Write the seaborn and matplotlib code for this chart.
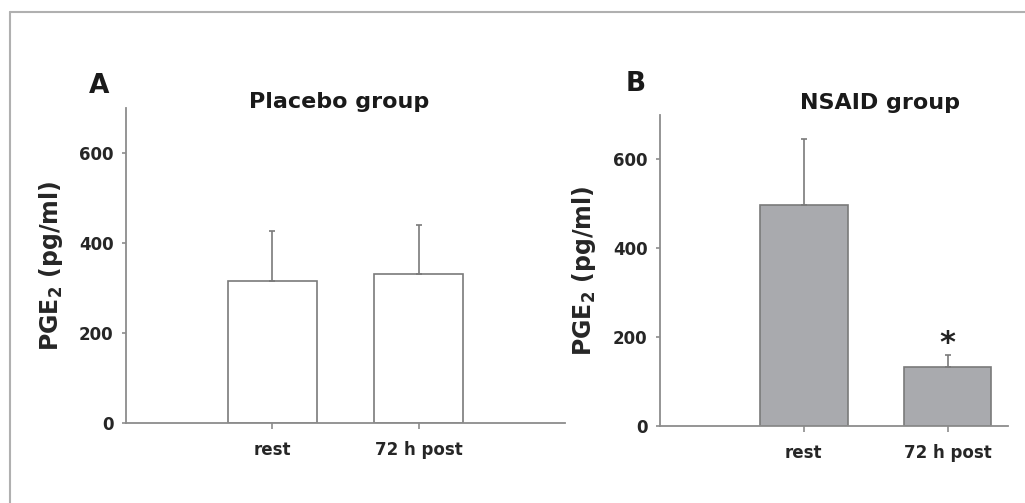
import numpy as np
import pandas as pd
import matplotlib
matplotlib.use("Agg")
import matplotlib.pyplot as plt
from matplotlib.lines import Line2D
import seaborn as sns

# data
conditions = ["rest", "72 h post"]
placebo_mean = [316, 331]
placebo_sd = [110, 109]
nsaid_mean = [497, 132]
nsaid_sd = [148, 27]

sns.set_style("white")
plt.rcParams['font.family'] = ['DejaVu Sans']
plt.rcParams['font.weight'] = 'bold'

axis_grey = "#8c8c8c"

fig = plt.figure(figsize=(10.25, 5.03), dpi=100)
ax_a = fig.add_axes([126/1025, 1-423/503, (565-126)/1025, (423-108)/503])
ax_b = fig.add_axes([660/1025, 1-426/503, (1008-660)/1025, (426-115)/503])


def draw_panel(ax, means, sds, fill, xmax):
    df = pd.DataFrame({"cond": conditions, "pge2": means})
    sns.barplot(data=df, x="cond", y="pge2", order=conditions, ax=ax,
                color=fill, saturation=1, width=0.61, errorbar=None,
                edgecolor="#7a7a7a", linewidth=1.2)
    ax.errorbar(np.arange(len(means)), means, yerr=[np.zeros(len(sds)), sds],
                fmt="none", ecolor="#7a7a7a", elinewidth=1.2, capsize=2.5,
                capthick=1.2)
    ax.set_xlim(-1, xmax)
    ax.set_ylim(0, 700)
    ax.set_yticks([0, 200, 400, 600])
    ax.set_xlabel("")
    ax.set_ylabel(r"PGE$_\mathbf{2}$ (pg/ml)", fontsize=17, fontweight="bold")
    sns.despine(ax=ax)
    for s in ("left", "bottom"):
        ax.spines[s].set_color(axis_grey)
        ax.spines[s].set_linewidth(1.3)
    ax.tick_params(axis="y", direction="out", length=3, width=1.2,
                   color=axis_grey, pad=6, labelsize=12, left=True)
    ax.tick_params(axis="x", direction="out", length=4, width=1.2,
                   color=axis_grey, pad=9, labelsize=12, bottom=True)
    for lab in ax.get_xticklabels() + ax.get_yticklabels():
        lab.set_fontweight("bold")


draw_panel(ax_a, placebo_mean, placebo_sd, "white", 2.0)
draw_panel(ax_b, nsaid_mean, nsaid_sd, "#a9aaae", 1.42)

ax_a.yaxis.set_label_coords(-0.14, 0.5)
ax_b.yaxis.set_label_coords(-0.178, 0.5)

# significance mark
ax_b.text(1, nsaid_mean[1] + nsaid_sd[1] - 6, "*", ha="center", va="bottom",
          fontsize=22, fontweight="bold", color="#222222")

# panel titles and letters
fig.text(339/1025, 1-102/503, "Placebo group", ha="center", va="center",
         fontsize=16, fontweight="bold", color="#1a1a1a")
fig.text(880/1025, 1-103/503, "NSAID group", ha="center", va="center",
         fontsize=16, fontweight="bold", color="#1a1a1a")
fig.text(99/1025, 1-86/503, "A", ha="center", va="center",
         fontsize=19, fontweight="bold", color="#1a1a1a")
fig.text(636/1025, 1-84/503, "B", ha="center", va="center",
         fontsize=19, fontweight="bold", color="#1a1a1a")

# thin frame on the left and top edges
fig.add_artist(Line2D([10/1025, 10/1025], [0, 1-12/503], transform=fig.transFigure,
                      color="#b0b0b0", lw=1.5))
fig.add_artist(Line2D([10/1025, 1], [1-12/503, 1-12/503], transform=fig.transFigure,
                      color="#b0b0b0", lw=1.5))

fig.savefig("out.png", dpi=100)
